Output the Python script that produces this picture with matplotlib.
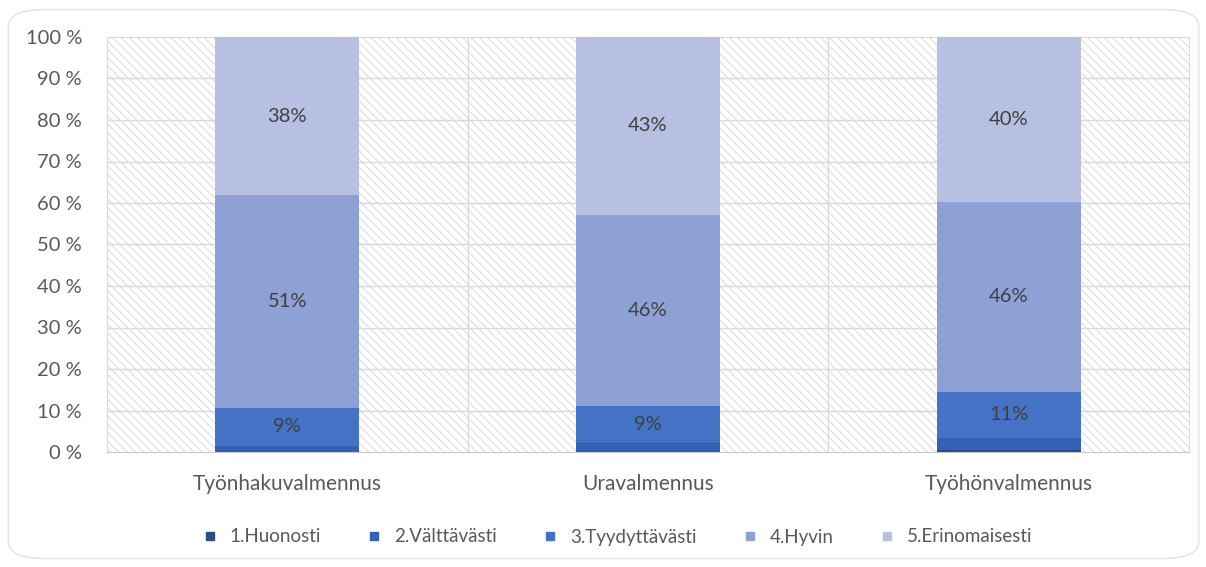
import numpy as np
import matplotlib.pyplot as plt
from matplotlib.patches import Rectangle, FancyBboxPatch
from matplotlib.lines import Line2D

# data (percent of answers)
categories = ['Työnhakuvalmennus', 'Uravalmennus', 'Työhönvalmennus']
series_names = ['1.Huonosti', '2.Välttävästi', '3.Tyydyttävästi', '4.Hyvin', '5.Erinomaisesti']
huonosti = [0.0, 0.0, 0.5]
valttavasti = [1.5, 2.2, 2.9]
tyydyttavasti = [9.1, 8.9, 11.1]
hyvin = [51.3, 46.1, 45.7]
erinomaisesti = [38.1, 42.8, 39.8]
labelled = [False, False, True, True, True]

colors = ['#2c4d8a', '#3461b3', '#4472c4', '#8da1d5', '#b8c0e1']

plt.rcParams['font.family'] = ['Lato', 'DejaVu Sans']
plt.rcParams['hatch.linewidth'] = 0.7

fig = plt.figure(figsize=(12.06, 5.67), dpi=100)
ax = fig.add_axes([107 / 1206, 1 - 452 / 567, 1082 / 1206, 415 / 567])

# rounded chart border
fig.patches.append(FancyBboxPatch((0.007, 0.015), 0.987, 0.968,
                                  boxstyle='round,pad=0,rounding_size=0.03',
                                  transform=fig.transFigure, facecolor='none',
                                  edgecolor='#e6e6e6', lw=1.2, zorder=0))

# hatched plot background
ax.add_patch(Rectangle((0, 0), 1, 1, transform=ax.transAxes, facecolor='white',
                       edgecolor='#d9d9d9', hatch='\\\\\\\\', lw=0, zorder=0))

x = np.arange(len(categories))
data = [huonosti, valttavasti, tyydyttavasti, hyvin, erinomaisesti]
bottom = np.zeros(len(categories))
for vals, name, col, lab in zip(data, series_names, colors, labelled):
    vals = np.array(vals)
    ax.bar(x, vals, 0.4, bottom=bottom, color=col, label=name, zorder=3)
    if lab:
        for xi, b, v in zip(x, bottom, vals):
            ax.text(xi, b + v / 2, '%d%%' % round(v), ha='center', va='center',
                    fontsize=14.5, color='#404040', zorder=4)
    bottom += vals

ax.set_xlim(-0.5, 2.5)
ax.set_ylim(0, 100)
ax.set_yticks(np.arange(0, 101, 10))
ax.set_yticklabels(['%d %%' % v for v in range(0, 101, 10)], fontsize=14.5)
ax.set_xticks(x)
ax.set_xticklabels(categories, fontsize=15)
ax.tick_params(length=0, labelcolor='#595959')
ax.tick_params(axis='y', pad=18)
ax.tick_params(axis='x', pad=16)

for y in range(10, 100, 10):
    ax.axhline(y, color='#d9d9d9', lw=1, zorder=1)
for xv in [0.5, 1.5]:
    ax.axvline(xv, color='#d9d9d9', lw=1, zorder=1)
for s in ax.spines.values():
    s.set_color('#d9d9d9')
ax.spines['bottom'].set_color('#c8c8c8')

handles = [Line2D([], [], marker='s', ls='', color=c, markersize=6) for c in colors]
fig.legend(handles, series_names, loc='center', bbox_to_anchor=(0.507, 1 - 537 / 567),
           ncol=5, frameon=False, fontsize=13.5, labelcolor='#595959',
           handletextpad=0.05, columnspacing=1.85)

fig.savefig('out.png', dpi=100)
